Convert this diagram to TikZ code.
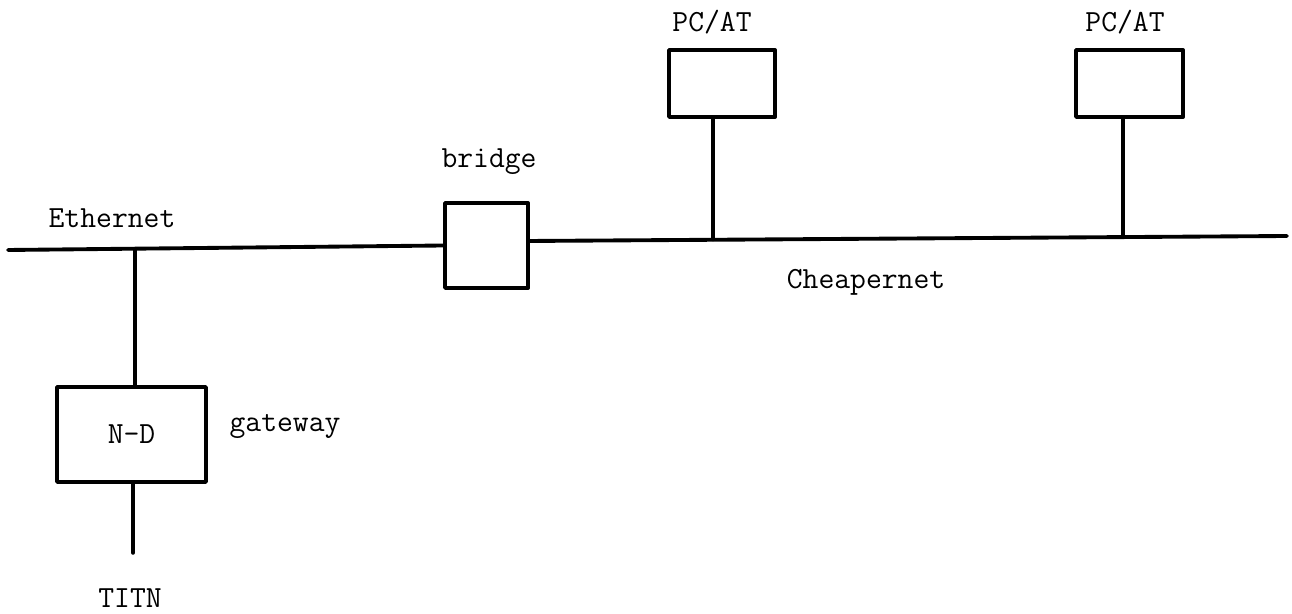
\documentclass[tikz,border=0pt]{standalone}
\usepackage{fontspec}
\setmainfont{Latin Modern Mono}
\begin{document}
\begin{tikzpicture}[x=0.02cm,y=-0.02cm,line cap=round,line join=round,
    font=\fontsize{17.5}{20}\selectfont,
    unit/.style={draw,line width=2.2pt,inner sep=0pt}]
  \useasboundingbox (0,0) rectangle (1292,614);
  % boxes
  \node[unit,minimum width=1.66cm,minimum height=1.7cm] (bridge) at (486.5,245.5) {};
  \node[unit,minimum width=2.12cm,minimum height=1.34cm] (pcA) at (722,83.5) {};
  \node[unit,minimum width=2.14cm,minimum height=1.34cm] (pcB) at (1129.5,83.5) {};
  \node[unit,minimum width=2.98cm,minimum height=1.9cm] (nd) at (131.5,434.5) {N-D};
  % line ends and taps
  \coordinate (ethW) at (8,250);
  \coordinate (cheapW) at (528,241);
  \coordinate (cheapE) at (1287,236);
  \coordinate (tapA) at (713,239.5);
  \coordinate (tapB) at (1123,237);
  \coordinate (tapE) at (135,249);
  \coordinate (titnEnd) at (133,553);
  \draw[line width=2.2pt] (ethW) -- (bridge.west);
  \draw[line width=2.2pt] (cheapW) -- (cheapE);
  \draw[line width=2pt] (tapA |- pcA.south) -- (tapA);
  \draw[line width=2pt] (tapB |- pcB.south) -- (tapB);
  \draw[line width=2pt] (tapE) -- (tapE |- nd.north);
  \draw[line width=2pt] (titnEnd |- nd.south) -- (titnEnd);
  % labels
  \node (ethLbl) at (112,218) {Ethernet};
  \node (brLbl) at (489,162) {bridge};
  \node (chLbl) at (866,282) {Cheapernet};
  \node (pcALbl) at (712,22) {PC/AT};
  \node (pcBLbl) at (1125,22) {PC/AT};
  \node (gwLbl) at (285,427) {gateway};
  \node (titnLbl) at (130,598) {TITN};
\end{tikzpicture}
\end{document}
